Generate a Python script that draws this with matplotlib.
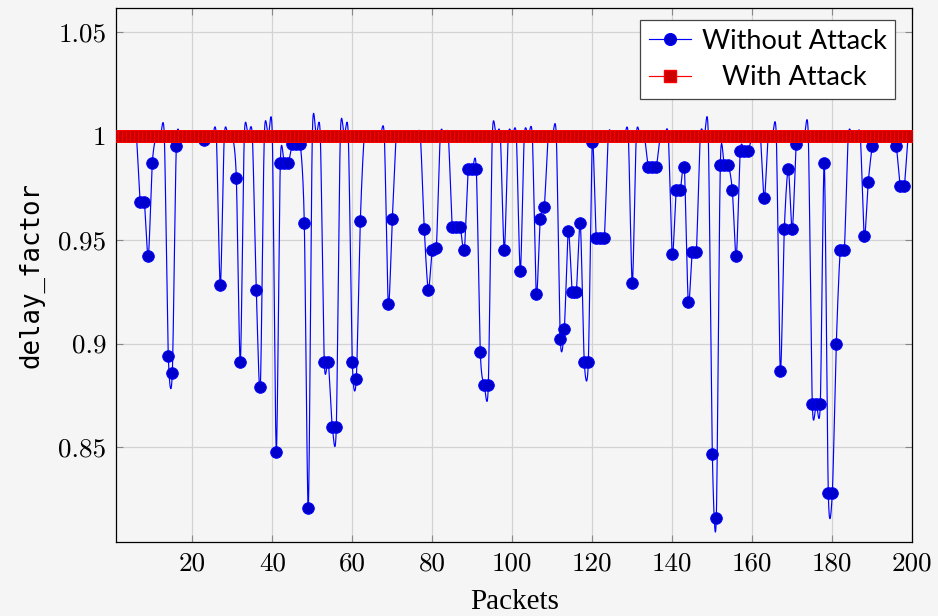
import numpy as np
import matplotlib
matplotlib.use("Agg")
import matplotlib.pyplot as plt
from matplotlib.lines import Line2D

# %% Datos
packets = list(range(1, 201))

# delay_factor sin ataque (200 paquetes)
without_attack = [
    1, 1, 1, 1, 1, 1, 0.968, 0.968, 0.942, 0.987,
    1, 1, 1, 0.894, 0.886, 0.995, 1, 1, 1, 1,
    1, 1, 0.998, 1, 1, 1, 0.928, 1, 1, 1,
    0.980, 0.891, 1, 1, 1, 0.926, 0.879, 1, 1, 1,
    0.848, 0.987, 0.987, 0.987, 0.996, 0.996, 0.996, 0.958, 0.821, 1,
    1, 1, 0.891, 0.891, 0.860, 0.860, 1, 1, 1, 0.891,
    0.883, 0.959, 1, 1, 1, 1, 1, 1, 0.919, 0.960,
    1, 1, 1, 1, 1, 1, 1, 0.955, 0.926, 0.945,
    0.946, 1, 1, 1, 0.956, 0.956, 0.956, 0.945, 0.984, 0.984,
    0.984, 0.896, 0.880, 0.880, 1, 1, 1, 0.945, 1, 1,
    1, 0.935, 1, 1, 1, 0.924, 0.960, 0.966, 1, 1,
    1, 0.902, 0.907, 0.954, 0.925, 0.925, 0.958, 0.891, 0.891, 0.997,
    0.951, 0.951, 0.951, 1, 1, 1, 1, 1, 1, 0.929,
    1, 1, 1, 0.985, 0.985, 0.985, 1, 1, 1, 0.943,
    0.974, 0.974, 0.985, 0.920, 0.944, 0.944, 1, 1, 1, 0.847,
    0.816, 0.986, 0.986, 0.986, 0.974, 0.942, 0.993, 0.993, 0.993, 1,
    1, 1, 0.970, 1, 1, 1, 0.887, 0.955, 0.984, 0.955,
    0.996, 1, 1, 1, 0.871, 0.871, 0.871, 0.987, 0.828, 0.828,
    0.900, 0.945, 0.945, 1, 1, 1, 1, 0.952, 0.978, 0.995,
    1, 1, 1, 1, 1, 0.995, 0.976, 0.976, 1, 1,
]

# delay_factor con ataque
with_attack = [1] * 200

x_ticks = [20, 40, 60, 80, 100, 120, 140, 160, 180, 200]
y_ticks = [0.85, 0.9, 0.95, 1, 1.05]
y_tick_labels = ["0.85", "0.9", "0.95", "1", "1.05"]


# %% Curva suave (como 'smooth' de pgfplots)
def suavizar(xs, ys, k=0.1375, n=24):
    pts = np.column_stack([xs, ys]).astype(float)
    m = len(pts)
    t = np.linspace(0, 1, n)[:, None]
    partes = []
    for i in range(m - 1):
        p0 = pts[i - 1] if i > 0 else pts[i]
        p1, p2 = pts[i], pts[i + 1]
        p3 = pts[i + 2] if i + 2 < m else pts[i + 1]
        c1 = p1 + k * (p2 - p0)
        c2 = p2 - k * (p3 - p1)
        b = ((1 - t) ** 3) * p1 + 3 * ((1 - t) ** 2) * t * c1 \
            + 3 * (1 - t) * t ** 2 * c2 + t ** 3 * p2
        partes.append(b if i == 0 else b[1:])
    curva = np.vstack(partes)
    return curva[:, 0], curva[:, 1]


# %% Gráfico
fondo = "#f5f5f5"
azul, azul_relleno = "#0000ff", "#0000cc"
rojo, rojo_relleno = "#ff0000", "#cc0000"

fig = plt.figure(figsize=(9.38, 6.16), dpi=100, facecolor=fondo)
ax = fig.add_axes([0.124, 0.12, 0.8486, 0.8665])
ax.set_facecolor(fondo)

sx, sy = suavizar(packets, without_attack)
ax.plot(sx, sy, color=azul, linewidth=0.85, zorder=3)
ax.plot(packets, without_attack, linestyle="none", marker="o", markersize=8.4,
        markerfacecolor=azul_relleno, markeredgecolor=azul, markeredgewidth=0.6,
        zorder=4)
ax.plot(packets, with_attack, color=rojo, linewidth=0.85, marker="s",
        markersize=8.2, markerfacecolor=rojo_relleno, markeredgecolor=rojo,
        markeredgewidth=0.6, zorder=5)

ax.set_xlim(1, 200)
ax.set_ylim(0.8044, 1.0615)
ax.set_xticks(x_ticks)
ax.set_xticklabels([str(v) for v in x_ticks])
ax.set_yticks(y_ticks)
ax.set_yticklabels(y_tick_labels)
for lbl in ax.get_xticklabels() + ax.get_yticklabels():
    lbl.set_fontfamily("cmr10")
    lbl.set_fontsize(19.5)

ax.tick_params(direction="in", length=5, width=0.8, color="#888888",
               top=True, right=True, pad=7)
ax.grid(True, color="#d3d3d3", linewidth=0.9)
ax.set_axisbelow(True)
for s in ax.spines.values():
    s.set_linewidth(0.9)
    s.set_color("black")

ax.set_xlabel("Packets", fontfamily="Liberation Serif", fontsize=21,
              labelpad=9.5)
ax.set_ylabel("delay_factor", fontfamily="DejaVu Sans Mono", fontsize=18.5,
              labelpad=10)

handles = [
    Line2D([], [], color=azul, linewidth=0.85, marker="o", markersize=8.4,
           markerfacecolor=azul_relleno, markeredgecolor=azul),
    Line2D([], [], color=rojo, linewidth=0.85, marker="s", markersize=8.2,
           markerfacecolor=rojo_relleno, markeredgecolor=rojo),
]
leg = ax.legend(handles, ["Without Attack", "With Attack"],
                loc="upper right", bbox_to_anchor=(0.9786, 0.978),
                borderaxespad=0, fancybox=False, framealpha=1,
                edgecolor="#444444", facecolor="white",
                prop={"family": "Lato", "size": 19.5},
                handlelength=1.55, handletextpad=0.4, labelspacing=0.42,
                borderpad=0.32)
leg.get_frame().set_linewidth(0.9)

# centrar los textos de la leyenda como en pgfplots
fig.canvas.draw()
r = fig.canvas.get_renderer()
textos = leg.get_texts()
anchos = [t.get_window_extent(r).width for t in textos]
for t, w in zip(textos, anchos):
    t.set_position(((max(anchos) - w) / 2, 0))

fig.savefig("out.png", dpi=100, facecolor=fondo)
